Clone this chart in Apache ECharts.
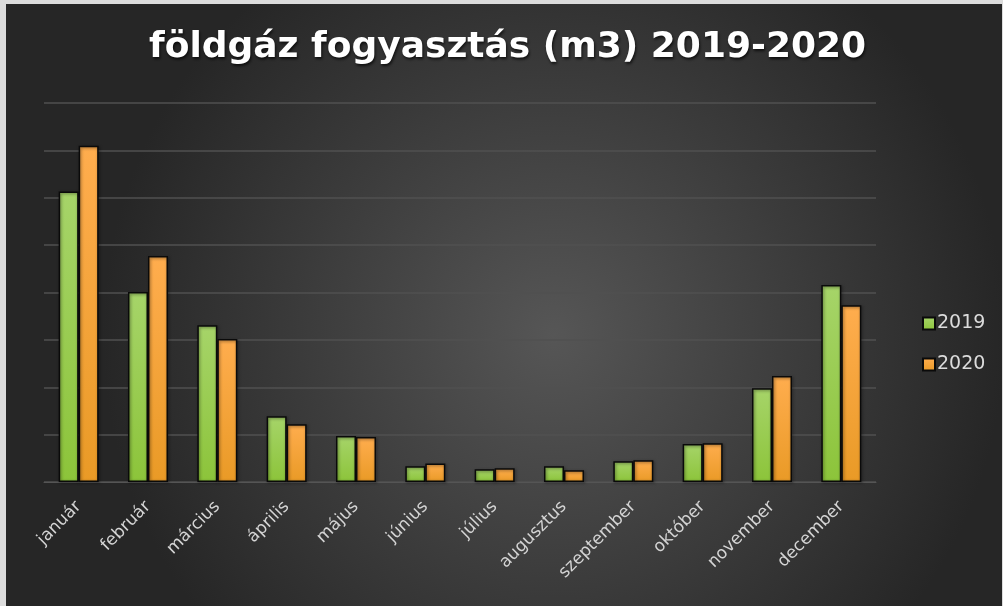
<!DOCTYPE html>
<html>
<head>
<meta charset="utf-8">
<script src="https://cdn.jsdelivr.net/npm/echarts@6/dist/echarts.min.js"></script>
<style>
html,body{margin:0;padding:0;background:#dcdcdc;width:1003px;height:606px;overflow:hidden;}
#c{position:absolute;left:6px;top:4px;width:996px;height:602px;}
</style>
</head>
<body>
<div id="c"></div>
<script>
const categories = ['január','február','március','április','május','június','július','augusztus','szeptember','október','november','december'];
const series2019 = [613, 401, 331, 139, 97, 33, 27, 33, 44, 80, 198, 416];
const series2020 = [710, 477, 302, 122, 95, 39, 29, 25, 46, 82, 224, 373];
const seriesNames = ['2019','2020'];
const titleText = 'földgáz fogyasztás (m3) 2019-2020';

const chart = echarts.init(document.getElementById('c'), null, {renderer:'canvas'});

function vGrad(top, bottom){
  return new echarts.graphic.LinearGradient(0,0,0,1,[
    {offset:0, color:top},{offset:1, color:bottom}
  ]);
}

chart.setOption({
  backgroundColor: new echarts.graphic.RadialGradient(0.55,0.55,0.75,[
    {offset:0, color:'#565656'},{offset:1, color:'#262626'}
  ]),
  title: {
    text: titleText,
    left: 138,
    top: 21,
    textStyle: {
      color:'#ffffff', fontSize:36, fontWeight:'bold', fontFamily:'DejaVu Sans',
      textShadowColor:'rgba(0,0,0,0.7)', textShadowBlur:3, textShadowOffsetX:1, textShadowOffsetY:2
    }
  },
  legend: {
    orient:'vertical',
    left: 911,
    top: 305,
    itemWidth: 12,
    itemHeight: 12,
    itemGap: 22,
    icon: 'rect',
    textStyle: {color:'#dcdcdc', fontSize:19, fontFamily:'DejaVu Sans', padding:[0,0,0,-3]},
    data: seriesNames
  },
  grid: {left:38, right:126, top:99, bottom:124, containLabel:false},
  xAxis: {
    type:'category',
    data: categories,
    axisLine:{show:true, lineStyle:{color:'#555555', width:1}},
    axisTick:{show:false},
    axisLabel:{rotate:45, color:'#d4d4d4', fontSize:17, fontFamily:'DejaVu Sans', margin:22, interval:0}
  },
  yAxis: {
    type:'value',
    min:0, max:800, interval:100,
    axisLabel:{show:false},
    axisLine:{show:false},
    axisTick:{show:false},
    splitLine:{lineStyle:{color:'#505050', width:1.5}}
  },
  series: [
    {
      name: seriesNames[0], type:'bar', data: series2019,
      barWidth: 20, barGap: '0%',
      itemStyle: {
        color: vGrad('#a6d469','#8cc43a'),
        borderColor:'#0a0a0a', borderWidth:1.5,
        shadowColor:'rgba(0,0,0,0.5)', shadowBlur:3, shadowOffsetX:1, shadowOffsetY:1
      }
    },
    {
      name: seriesNames[1], type:'bar', data: series2020,
      barWidth: 20,
      itemStyle: {
        color: vGrad('#ffad4e','#e99a26'),
        borderColor:'#0a0a0a', borderWidth:1.5,
        shadowColor:'rgba(0,0,0,0.5)', shadowBlur:3, shadowOffsetX:1, shadowOffsetY:1
      }
    }
  ]
});
</script>
</body>
</html>
